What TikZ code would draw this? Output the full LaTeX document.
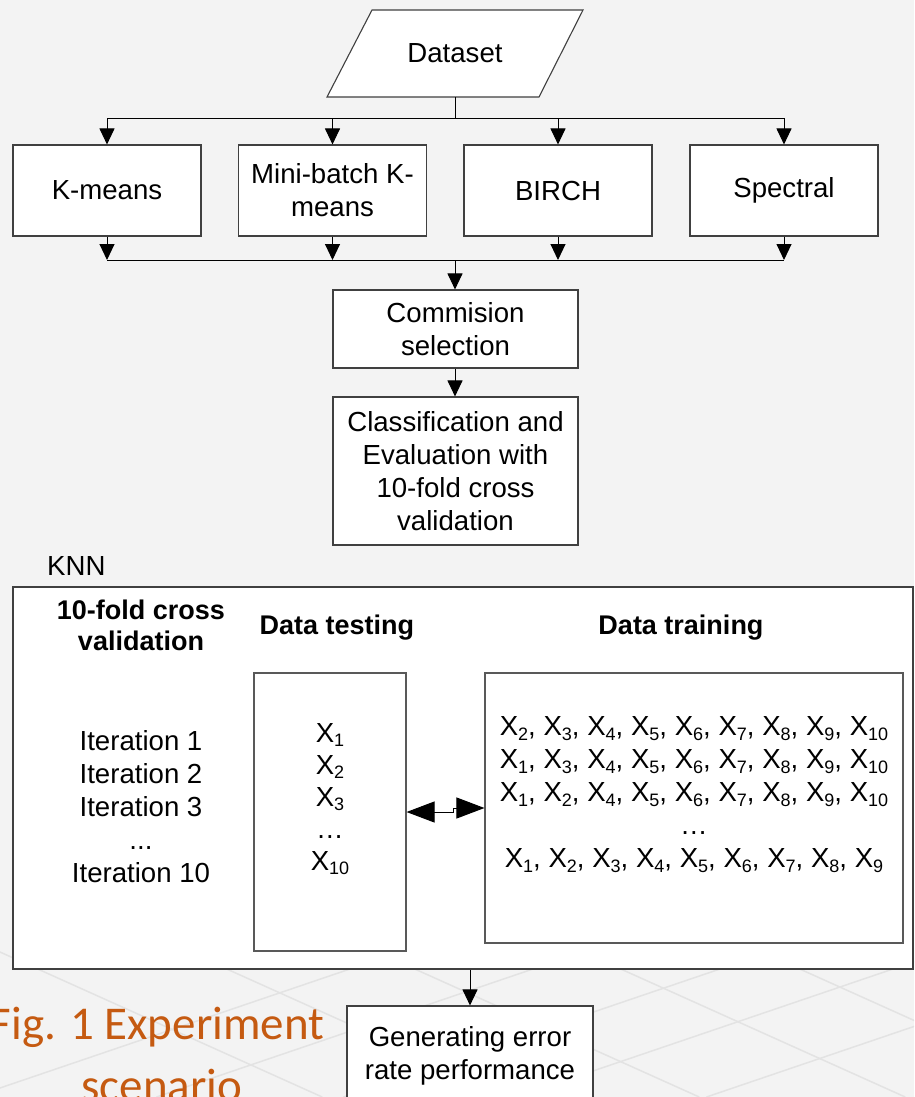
\documentclass[tikz,border=0pt]{standalone}
\usepackage{fontspec}
\setmainfont{Liberation Sans}
\newfontfamily\capfont{Carlito}
\usetikzlibrary{arrows.meta}
\definecolor{bgc}{HTML}{F3F3F3}
\definecolor{gridc}{HTML}{E3E3E3}
\definecolor{linec}{HTML}{404040}
\definecolor{capc}{HTML}{C55A11}
\newcommand\xs[1]{\raisebox{-0.3ex}{\fontsize{18}{18}\selectfont #1}}
\begin{document}
\begin{tikzpicture}[x=1pt,y=-1pt, font=\fontsize{27.6}{33}\selectfont,
  box/.style={draw=linec, line width=1.1pt, fill=white, align=center, inner sep=0pt},
  arr/.style={draw=black, line width=1pt, -{Triangle[length=16pt,width=15pt]}},
  ln/.style={draw=black, line width=1pt},
  txt/.style={align=center, inner sep=0pt},
  head/.style={txt, font=\fontsize{27}{31}\selectfont\bfseries},
  gridline/.style={draw=gridc, line width=1.5pt}]
\useasboundingbox (0,0) rectangle (914,1097);
\fill[bgc] (0,0) rectangle (914,1097);
\clip (0,0) rectangle (914,1097);
% background lattice
\foreach \x in {40,229,417,623,802}
  \draw[gridline] ({\x-60/0.45},910) -- ({\x+127/0.45},1097);
\foreach \x in {347,530,717,890,1080}
  \draw[gridline] ({\x+60/0.34},910) -- ({\x-127/0.34},1097);
% dataset
\draw[draw=linec, line width=1.1pt, fill=white] (372,10) -- (583,10) -- (539,97) -- (327,97) -- cycle;
\node[txt, minimum width=160, minimum height=87] (data) at (455,53.5) {Dataset};
% algorithms
\node[box, minimum width=188, minimum height=91] (km) at (107,190.5) {K-means};
\node[box, minimum width=188, minimum height=91] (mb) at (332.5,190.5) {Mini-batch K-\\means};
\node[box, minimum width=188, minimum height=91] (birch) at (558,190.5) {BIRCH};
\node[box, minimum width=188, minimum height=91] (sp) at (784,190.5) {Spectral};
\node[box, minimum width=245, minimum height=78] (cs) at (455.5,329) {Commision\\selection};
\node[box, minimum width=245, minimum height=148] (cl) at (455.5,471) {Classification and\\Evaluation with\\10-fold cross\\validation};
% KNN
\node[txt, anchor=west] (knn) at (47,566) {KNN};
\node[box, line width=1.3pt, minimum width=900, minimum height=382] (knnbox) at (463,778) {};
\node[box, draw=gray!70!black, minimum width=152, minimum height=278] (test) at (330,812) {};
\node[box, draw=gray!70!black, minimum width=418, minimum height=270] (train) at (694,808) {};
\node[head] (cv) at (141,625.5) {10-fold cross\\validation};
\node[head] (dt) at (337,628) {Data testing};
\node[head] (dtr) at (681,628) {Data training};
\node[txt] (iter) at (141,807) {Iteration 1\\Iteration 2\\Iteration 3\\...\\Iteration 10};
\node[txt, font=\fontsize{27.6}{32}\selectfont] (testx) at (330,799) {X\xs{1}\\X\xs{2}\\X\xs{3}\\…\\X\xs{10}};
\node[txt] (trainx) at (694,794.5) {X\xs{2}, X\xs{3}, X\xs{4}, X\xs{5}, X\xs{6}, X\xs{7}, X\xs{8}, X\xs{9}, X\xs{10}\\
X\xs{1}, X\xs{3}, X\xs{4}, X\xs{5}, X\xs{6}, X\xs{7}, X\xs{8}, X\xs{9}, X\xs{10}\\
X\xs{1}, X\xs{2}, X\xs{4}, X\xs{5}, X\xs{6}, X\xs{7}, X\xs{8}, X\xs{9}, X\xs{10}\\
…\\
X\xs{1}, X\xs{2}, X\xs{3}, X\xs{4}, X\xs{5}, X\xs{6}, X\xs{7}, X\xs{8}, X\xs{9}};
\node[box, minimum width=246, minimum height=100] (gen) at (470,1056) {Generating error\\rate performance};
% caption
\node[anchor=base, inner sep=0pt, text=capc, font=\capfont\fontsize{47}{47}\selectfont] (cap1) at (157,1039) {Fig. 1 Experiment};
\node[anchor=base, inner sep=0pt, text=capc, font=\capfont\fontsize{47}{47}\selectfont] (cap2) at (162,1101) {scenario};
% connectors
\coordinate (split) at (455,119);
\draw[ln] (data.south) -- (split);
\foreach \n in {km,mb,birch,sp} \draw[arr] (split) -| (\n.north);
\coordinate (join) at (455,260);
\foreach \n in {km,mb,birch,sp} \draw[arr] (\n.south) -- (\n.south |- join);
\draw[ln] (km.south |- join) -- (sp.south |- join);
\draw[arr] (join) -- (join |- cs.north);
\draw[arr] (join |- cs.south) -- (join |- cl.north);
\draw[ln, {Triangle[length=28pt,width=21pt]}-{Triangle[length=28pt,width=21pt]}] (test.east) -- ++(47,0) |- (train.west);
\draw[arr] (gen.north |- knnbox.south) -- (gen.north);
\end{tikzpicture}
\end{document}
